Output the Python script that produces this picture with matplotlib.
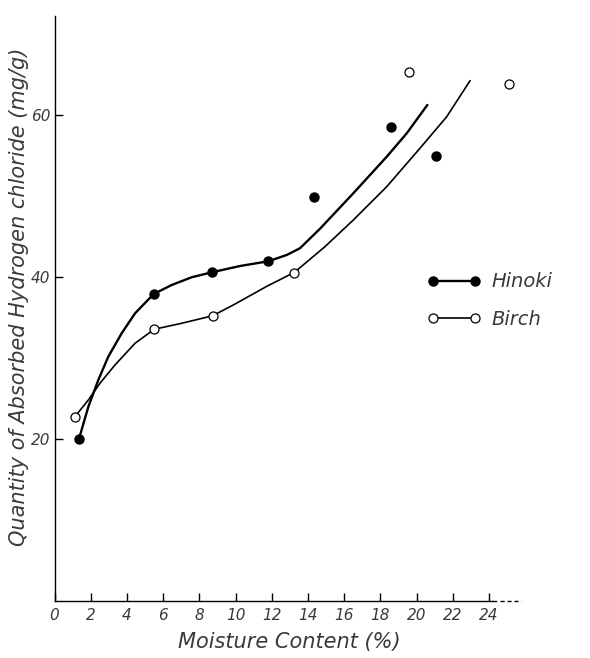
import numpy as np
import matplotlib
matplotlib.use('Agg')
import matplotlib.pyplot as plt

# ==============================================================================
# data
# ==============================================================================
hinoki_x = [1.35, 5.48, 8.69, 11.81, 14.32, 18.59, 21.08]
hinoki_y = [19.96, 37.86, 40.54, 41.90, 49.88, 58.52, 54.90]

birch_x = [1.13, 5.51, 8.73, 13.25, 19.57, 25.11]
birch_y = [22.72, 33.51, 35.17, 40.49, 65.23, 63.75]

# hand drawn smooth curves (traced)
hinoki_curve_x = [1.35, 1.87, 2.42, 2.97, 3.71, 4.45, 5.48, 6.48, 7.58, 8.69,
                  10.25, 11.81, 12.83, 13.56, 14.66, 16.51, 18.35, 19.46, 20.60]
hinoki_curve_y = [19.96, 23.95, 27.25, 30.12, 33.01, 35.48, 37.86, 38.98, 39.93, 40.54,
                  41.32, 41.90, 42.68, 43.51, 45.90, 50.30, 54.80, 57.70, 61.20]

birch_curve_x = [1.13, 1.87, 2.51, 3.34, 4.45, 5.51, 7.03, 8.73, 9.88, 11.72,
                 13.25, 14.94, 16.51, 18.35, 20.19, 21.67, 22.96]
birch_curve_y = [22.72, 24.78, 26.84, 29.10, 31.78, 33.51, 34.25, 35.17, 36.51, 38.80,
                 40.53, 43.70, 47.00, 51.10, 55.85, 59.75, 64.20]

x_ticks = list(range(0, 25, 2))
y_ticks = [20, 40, 60]

# ==============================================================================
# plot
# ==============================================================================
plt.rcParams['font.family'] = ['DejaVu Sans']
txt = dict(fontstyle='italic', color='#3a3a3a')

fig = plt.figure(figsize=(5.9, 6.58), dpi=100)
ax = fig.add_axes([0.0924, 0.0871, 0.7976, 0.8888])

ax.plot(hinoki_curve_x, hinoki_curve_y, color='black', lw=1.7,
        solid_capstyle='round', solid_joinstyle='round')
ax.plot(birch_curve_x, birch_curve_y, color='black', lw=1.2,
        solid_capstyle='round', solid_joinstyle='round')

ax.plot(hinoki_x, hinoki_y, 'o', ms=6.5, mfc='black', mec='black', mew=1.0, zorder=3)
ax.plot(birch_x, birch_y, 'o', ms=6.5, mfc='white', mec='black', mew=0.9, zorder=3)

# legend handles: marker at both ends of a line
h1, = ax.plot([], [], '-o', color='black', lw=1.7, ms=6.5, mfc='black', mec='black')
h2, = ax.plot([], [], '-o', color='black', lw=1.2, ms=6.5, mfc='white', mec='black', mew=0.9)
leg = ax.legend([h1, h2], ['Hinoki', 'Birch'], loc='center left',
                bbox_to_anchor=(0.791, 0.513), frameon=False, numpoints=2,
                handlelength=2.8, handletextpad=0.55, labelspacing=0.95,
                borderpad=0, borderaxespad=0,
                prop={'size': 14, 'style': 'italic'})
for t in leg.get_texts():
    t.set_color('#3a3a3a')

ax.set_xlim(0, 26)
ax.set_ylim(0, 72.2)

for s in ['top', 'right']:
    ax.spines[s].set_visible(False)
ax.spines['left'].set_linewidth(1.0)
ax.spines['bottom'].set_linewidth(1.0)
ax.spines['bottom'].set_bounds(0, 24.4)
# broken end of the x axis
ax.plot([24.6, 25.8], [0, 0], color='black', lw=1.0, ls=(0, (3, 2)), clip_on=False)

ax.set_xticks(x_ticks)
ax.set_xticklabels([str(v) for v in x_ticks], fontsize=11, **txt)
ax.set_yticks(y_ticks)
ax.set_yticklabels([str(v) for v in y_ticks], fontsize=11, **txt)
ax.tick_params(axis='x', direction='in', length=6, width=1.0, pad=5)
ax.tick_params(axis='y', direction='in', length=6, width=1.0, pad=3)

ax.set_xlabel('Moisture Content (%)', fontsize=15, labelpad=7, **txt)
ax.set_ylabel('Quantity of Absorbed Hydrogen chloride (mg/g)', fontsize=15, **txt)
ax.yaxis.set_label_coords(-0.054, 0.519)

fig.savefig('out.png', dpi=100)
plt.close(fig)
